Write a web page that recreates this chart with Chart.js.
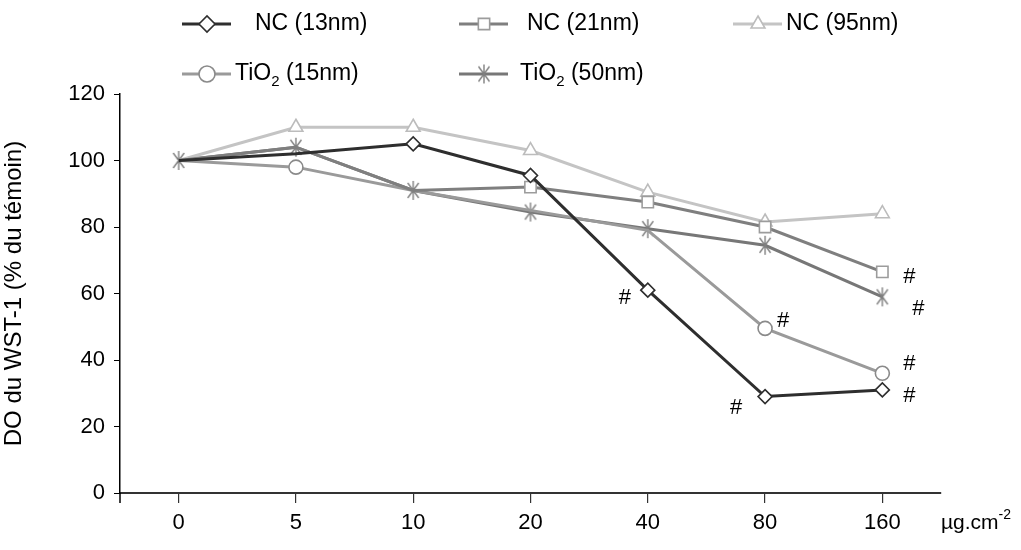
<!DOCTYPE html>
<html>
<head>
<meta charset="utf-8">
<script src="https://cdn.jsdelivr.net/npm/chart.js@4/dist/chart.umd.min.js"></script>
<style>
  html, body { margin: 0; padding: 0; background: #fff; }
  #wrap { width: 1021px; height: 550px; position: relative; }
</style>
</head>
<body>
<div id="wrap"><canvas id="wstChart" width="1021" height="550"></canvas></div>
<script>
// Data
const doses = ['0', '5', '10', '20', '40', '80', '160'];
const nc13 = [100, 102, 105, 95.5, 61, 29, 31];
const nc21 = [100, 104, 91, 92, 87.5, 80, 66.5];
const nc95 = [100, 110, 110, 103, 90.5, 81.5, 84];
const tio15 = [100, 98, 91, 85, 79, 49.5, 36];
const tio50 = [100, 104, 91, 84.5, 79.5, 74.5, 59];
const yTicks = [0, 20, 40, 60, 80, 100, 120];
const seriesNames = ['NC (13nm)', 'NC (21nm)', 'NC (95nm)', 'TiO2 (15nm)', 'TiO2 (50nm)'];

const FONT = '"Liberation Sans", Arial, sans-serif';

// asterisk marker (vertical bar + X)
function asterisk(color) {
  const c = document.createElement('canvas');
  c.width = 14; c.height = 21;
  const g = c.getContext('2d');
  g.strokeStyle = color;
  g.lineWidth = 1.4;
  g.beginPath();
  g.moveTo(7, 1); g.lineTo(7, 20);
  g.moveTo(1.5, 3); g.lineTo(12.5, 18);
  g.moveTo(12.5, 3); g.lineTo(1.5, 18);
  g.stroke();
  return c;
}

// points hidden in the figure where markers overlap
const r = 7;
const styles = [
  { line: '#2e2e2e', edge: '#2e2e2e', point: 'rectRot', radius: [0, 0, r, r, r, r, r] },
  { line: '#7f7f7f', edge: '#9c9c9c', point: 'rect', radius: [0, 0, 0, 8, 8, 8, 8] },
  { line: '#c4c4c4', edge: '#bcbcbc', point: 'triangle', radius: [0, 8, 8, 8, 8, 8, 8] },
  { line: '#9a9a9a', edge: '#8a8a8a', point: 'circle', radius: [0, 7, 0, 0, 0, 7, 7] },
  { line: '#777777', edge: '#808080', point: asterisk('#808080'), radius: [r, r, r, r, r, r, r] }
];
const values = [nc13, nc21, nc95, tio15, tio50];

// significance marks: [dataset, point, dx, dy]
const marks = [
  [0, 4, -23, 8], [0, 5, -29, 11], [0, 6, 27, 6],
  [3, 5, 18, -7], [3, 6, 27, -9],
  [1, 6, 27, 5], [4, 6, 36, 12]
];

function drawName(ctx, name, x, y, size) {
  ctx.textAlign = 'left';
  ctx.textBaseline = 'middle';
  const m = name.match(/^(TiO)2(.*)$/);
  ctx.font = size + 'px ' + FONT;
  if (!m) {
    ctx.fillText(name, x, y);
    return;
  }
  ctx.fillText(m[1], x, y);
  x += ctx.measureText(m[1]).width;
  ctx.font = Math.round(size * 0.65) + 'px ' + FONT;
  ctx.fillText('2', x, y + 8);
  x += ctx.measureText('2').width;
  ctx.font = size + 'px ' + FONT;
  ctx.fillText(m[2], x, y);
}

const legendPos = [
  { x: 182, y: 24, tx: 255 },
  { x: 459, y: 24, tx: 527 },
  { x: 733, y: 24, tx: 786 },
  { x: 182, y: 74, tx: 235 },
  { x: 459, y: 74, tx: 520 }
];

const extras = {
  id: 'extras',
  afterDraw(chart) {
    const ctx = chart.ctx;
    const area = chart.chartArea;
    ctx.save();

    // y axis line runs a little below the x axis
    ctx.strokeStyle = '#000';
    ctx.lineWidth = 1.5;
    ctx.beginPath();
    ctx.moveTo(area.left, area.bottom);
    ctx.lineTo(area.left, area.bottom + 10);
    ctx.stroke();

    // # marks
    ctx.fillStyle = '#000';
    ctx.font = '22px ' + FONT;
    ctx.textAlign = 'center';
    ctx.textBaseline = 'middle';
    marks.forEach(([d, i, dx, dy]) => {
      const p = chart.getDatasetMeta(d).data[i];
      ctx.fillText('#', p.x + dx, p.y + dy);
    });

    // unit
    ctx.textAlign = 'left';
    ctx.font = '21px ' + FONT;
    const ux = area.right;
    const uy = 523;
    ctx.fillText('\u00b5g.cm', ux, uy);
    const w = ctx.measureText('\u00b5g.cm').width;
    ctx.font = '14px ' + FONT;
    ctx.fillText('-2', ux + w, uy - 8);

    // legend
    seriesNames.forEach((name, k) => {
      const s = styles[k];
      const pos = legendPos[k];
      ctx.strokeStyle = s.line;
      ctx.lineWidth = 3;
      ctx.beginPath();
      ctx.moveTo(pos.x, pos.y);
      ctx.lineTo(pos.x + 49, pos.y);
      ctx.stroke();
      ctx.fillStyle = '#fff';
      ctx.strokeStyle = s.edge;
      ctx.lineWidth = 1.6;
      Chart.helpers.drawPoint(ctx, { pointStyle: s.point, radius: 8, rotation: 0, borderWidth: 1.6 }, pos.x + 25, pos.y);
      ctx.fillStyle = '#000';
      drawName(ctx, name, pos.tx, pos.y, 23);
    });

    ctx.restore();
  }
};

const ctx = document.getElementById('wstChart').getContext('2d');
const wstChart = new Chart(ctx, {
  type: 'line',
  data: {
    labels: doses,
    datasets: values.map((v, k) => ({
      label: seriesNames[k],
      data: v,
      borderColor: styles[k].line,
      borderWidth: 3,
      tension: 0,
      fill: false,
      pointStyle: styles[k].point,
      pointRadius: styles[k].radius,
      pointBackgroundColor: '#fff',
      pointBorderColor: styles[k].edge,
      pointBorderWidth: 1.6
    }))
  },
  options: {
    responsive: false,
    animation: false,
    layout: { padding: { top: 94, right: 80, bottom: 0, left: 0 } },
    plugins: {
      legend: { display: false },
      tooltip: { enabled: false }
    },
    scales: {
      x: {
        offset: true,
        afterFit: (scale) => { scale.height = 57; },
        border: { color: '#333', width: 2 },
        grid: { offset: false, drawOnChartArea: false, tickLength: 10, color: '#333', lineWidth: 1.2 },
        ticks: { color: '#000', font: { family: FONT, size: 22 }, padding: 7, maxRotation: 0 }
      },
      y: {
        min: 0,
        max: 120,
        afterFit: (scale) => { scale.width = 120; },
        afterBuildTicks: (scale) => { scale.ticks = yTicks.map(v => ({ value: v })); },
        border: { color: '#000', width: 1.5 },
        grid: { drawOnChartArea: false, tickLength: 6, color: '#000' },
        ticks: { color: '#000', font: { family: FONT, size: 22 }, padding: 9 },
        title: {
          display: true,
          text: 'DO du WST-1 (% du t\u00e9moin)',
          color: '#000',
          font: { family: FONT, size: 24 },
          padding: { top: 0, bottom: 0 }
        }
      }
    }
  },
  plugins: [extras]
});
</script>
</body>
</html>
